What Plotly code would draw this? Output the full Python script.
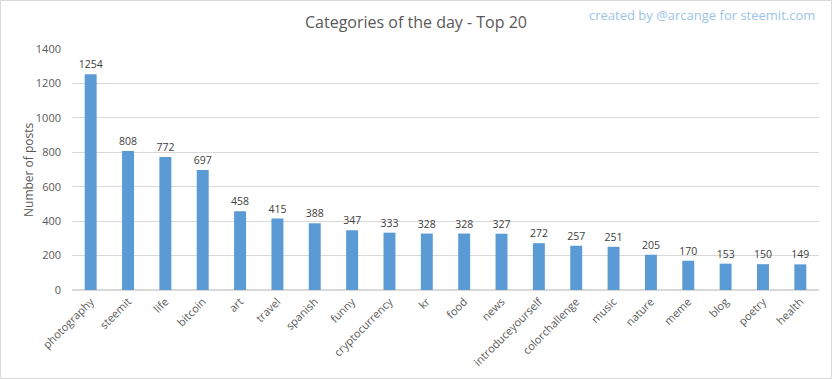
import plotly.graph_objects as go

categories = ["photography", "steemit", "life", "bitcoin", "art", "travel", "spanish", "funny",
              "cryptocurrency", "kr", "food", "news", "introduceyourself", "colorchallenge",
              "music", "nature", "meme", "blog", "poetry", "health"]
posts = [1254, 808, 772, 697, 458, 415, 388, 347, 333, 328, 328, 327, 272, 257, 251, 205, 170, 153, 150, 149]
y_ticks = [0, 200, 400, 600, 800, 1000, 1200, 1400]

W, H = 832, 379
ML, MR, MT, MB = 72, 13, 49, 89
PW, PH = W - ML - MR, H - MT - MB

FONT = "Open Sans, Liberation Sans, sans-serif"

fig = go.Figure(go.Bar(
    x=categories, y=posts,
    marker=dict(color="#5b9bd5", line=dict(width=0)),
    text=[str(v) for v in posts], textposition="outside",
    textfont=dict(size=10.5, color="#404040", family=FONT),
    constraintext="none",
    cliponaxis=False,
))

fig.update_layout(
    width=W, height=H,
    margin=dict(l=ML, r=MR, t=MT, b=MB, autoexpand=False),
    paper_bgcolor="white", plot_bgcolor="white",
    bargap=0.68,
    showlegend=False,
    title=dict(text="Categories of the day - Top 20", x=0.5, xanchor="center",
               y=1 - 22 / H, yanchor="middle",
               font=dict(size=16, color="#595959", family=FONT)),
    xaxis=dict(tickangle=-45, tickfont=dict(size=11, color="#595959", family=FONT),
               showgrid=False, showline=True, linecolor="#d9d9d9", linewidth=1,
               ticks="", automargin=False),
    yaxis=dict(range=[0, 1400], tickvals=y_ticks, showgrid=True, gridcolor="#d9d9d9",
               gridwidth=1, zeroline=True, zerolinecolor="#d9d9d9",
               tickfont=dict(size=11, color="#595959", family=FONT),
               ticklabelstandoff=10,
               ticks="", automargin=False),
    annotations=[
        dict(text="created by @arcange for steemit.com", xref="paper", yref="paper",
             x=(817 - ML) / PW, y=1 + (MT - 15) / PH, xanchor="right",
             yanchor="middle", showarrow=False,
             font=dict(size=13, color="#9dc3e6", family=FONT)),
        dict(text="Number of posts", xref="paper", yref="paper",
             x=(28 - ML) / PW, y=1 - (170 - MT) / PH, xanchor="center", yanchor="middle",
             textangle=-90, showarrow=False,
             font=dict(size=12, color="#595959", family=FONT)),
    ],
    shapes=[dict(type="rect", xref="paper", yref="paper",
                 x0=-(ML - 0.5) / PW, x1=1 + (MR - 0.5) / PW,
                 y0=-(MB - 0.5) / PH, y1=1 + (MT - 0.5) / PH,
                 line=dict(color="#d9d9d9", width=1), layer="below")],
)

fig.write_html("out.html", config={"displayModeBar": False},
               post_script="document.body.style.margin='0px';document.body.style.padding='0px';")
